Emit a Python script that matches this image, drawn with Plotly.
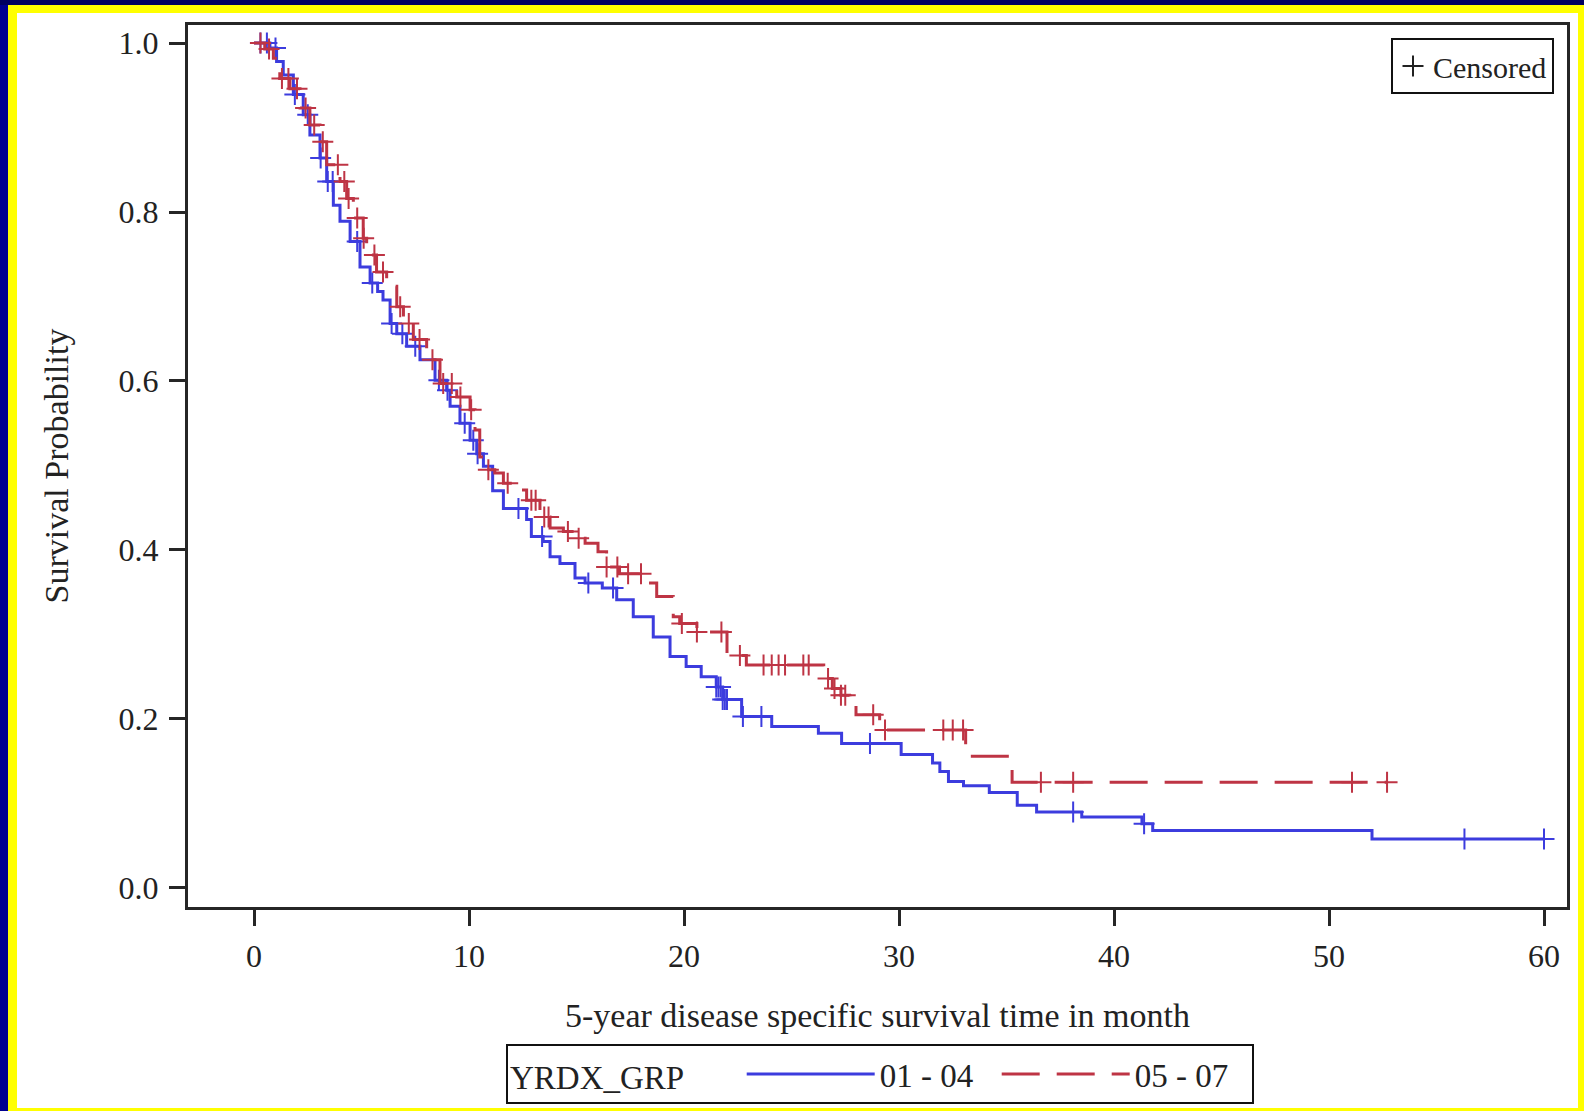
import numpy as np
import plotly.graph_objects as go

# ---------------- data ----------------
group_names = ["01 - 04", "05 - 07"]

blue_t = [0, 0.74, 1.05, 1.36, 1.83, 2.29, 2.6, 3.07, 3.38, 3.69, 4.0, 4.47, 4.93, 5.4, 5.75,
          6.0, 6.33, 6.64, 7.1, 7.72, 8.42, 8.96, 9.12, 9.58, 10.05, 10.36, 10.67, 11.1, 11.6,
          12.68, 12.9, 13.45, 13.77, 14.23, 14.93, 15.4, 16.2, 16.87, 17.64, 18.57, 19.35, 20.1,
          20.8, 21.5, 21.8, 22.68, 24.08, 26.25, 27.33, 30.1, 31.56, 31.9, 32.3, 33.0, 34.2,
          35.5, 36.4, 38.5, 41.3, 41.8, 52.0]
blue_s = [1.0, 0.994, 0.978, 0.962, 0.939, 0.915, 0.891, 0.864, 0.836, 0.808, 0.789, 0.765, 0.735,
          0.716, 0.706, 0.696, 0.668, 0.656, 0.641, 0.625, 0.601, 0.589, 0.570, 0.550, 0.530,
          0.514, 0.499, 0.470, 0.449, 0.436, 0.416, 0.410, 0.392, 0.384, 0.367, 0.361, 0.355,
          0.341, 0.321, 0.297, 0.274, 0.262, 0.250, 0.238, 0.223, 0.203, 0.191, 0.183, 0.171,
          0.158, 0.148, 0.138, 0.126, 0.121, 0.113, 0.098, 0.090, 0.084, 0.076, 0.068, 0.058]
blue_end = 60.0
blue_cens = [0.3, 0.6, 1.0, 1.9, 2.5, 3.1, 3.43, 3.66, 4.8, 5.5, 6.4, 6.9, 7.5, 8.6, 9.0, 9.8,
             10.2, 10.4, 12.3, 13.4, 15.55, 16.7, 21.5, 21.6, 21.7, 21.8, 21.9, 22.0, 22.74,
             23.6, 28.65, 38.1, 41.4, 56.3, 60.0]

red_t = [0, 0.5, 0.9, 1.2, 1.67, 2.14, 2.6, 3.07, 3.38, 4.0, 4.31, 4.62, 5.08, 5.24, 5.7, 6.17,
         6.64, 6.95, 7.41, 8.03, 8.65, 9.43, 10.05, 10.28, 10.5, 10.74, 11.2, 11.6, 12.29, 12.68,
         13.3, 13.77, 14.39, 14.93, 15.4, 16.0, 16.4, 17.0, 18.26, 18.73, 19.5, 19.8, 20.6, 22.0,
         22.9, 26.5, 26.9, 27.3, 27.7, 28.0, 29.1, 33.1, 35.26]
red_s = [1.0, 0.993, 0.982, 0.958, 0.946, 0.923, 0.903, 0.883, 0.856, 0.836, 0.816, 0.793, 0.769,
         0.749, 0.729, 0.712, 0.688, 0.668, 0.649, 0.625, 0.597, 0.581, 0.566, 0.542, 0.510,
         0.495, 0.491, 0.479, 0.471, 0.459, 0.439, 0.426, 0.422, 0.414, 0.408, 0.398, 0.380,
         0.372, 0.361, 0.345, 0.321, 0.313, 0.303, 0.275, 0.264, 0.248, 0.236, 0.228, 0.222,
         0.205, 0.187, 0.156, 0.125]
red_end = 52.7
red_cens = [0.3, 0.7, 1.3, 1.6, 2.0, 2.4, 2.8, 3.2, 3.9, 4.2, 4.4, 4.8, 5.1, 5.6, 6.0, 6.8, 7.2,
            7.7, 8.3, 8.8, 9.2, 9.6, 10.1, 10.9, 11.8, 12.9, 13.1, 13.5, 13.7, 14.6, 15.1, 16.4,
            16.9, 17.4, 18.0, 19.9, 20.6, 21.74, 22.6, 23.7, 24.08, 24.4, 24.7, 25.55, 25.8,
            26.7, 27.0, 27.3, 27.5, 28.8, 29.35, 32.06, 32.5, 32.98, 36.6, 38.1, 51.07, 52.7]

x_ticks = [0, 10, 20, 30, 40, 50, 60]
y_ticks = [0.0, 0.2, 0.4, 0.6, 0.8, 1.0]

BLUE = "#3C3CDE"
RED = "#BE3444"
FONT = "Liberation Serif"
TXT = "#222222"

# ---------------- helpers ----------------
def surv_at(times, surv, t):
    idx = np.searchsorted(np.array(times), np.array(t), side="right") - 1
    return list(np.array(surv)[idx])

fig = go.Figure()

for name, t, s, end, cens, color, dash in [
    (group_names[0], blue_t, blue_s, blue_end, blue_cens, BLUE, "solid"),
    (group_names[1], red_t, red_s, red_end, red_cens, RED, "38px,17px"),
]:
    fig.add_trace(go.Scatter(
        x=list(t) + [end], y=list(s) + [s[-1]], mode="lines", line_shape="hv",
        line=dict(color=color, width=3, dash=dash), name=name, legend="legend",
    ))
    fig.add_trace(go.Scatter(
        x=cens, y=surv_at(t, s, cens), mode="markers", showlegend=False,
        marker=dict(symbol="cross-thin", size=15, line=dict(width=2, color=color)),
    ))

fig.add_trace(go.Scatter(
    x=[None], y=[None], mode="markers", name="Censored", legend="legend2",
    marker=dict(symbol="cross-thin", size=15, line=dict(width=2, color=TXT)),
))

# ---------------- layout ----------------
W, H = 1584, 1111
L, R, T, B = 188, 17, 25, 204
PW, PH = W - L - R, H - T - B

def px(x):
    return (x - L) / PW

def py(y):
    return (H - B - y) / PH

shapes = [
    dict(type="rect", xref="paper", yref="paper", x0=px(0), x1=px(W), y0=py(H), y1=py(0),
         fillcolor="#000060", line_width=0, layer="below"),
    dict(type="rect", xref="paper", yref="paper", x0=px(0), x1=px(8), y0=py(H), y1=py(5),
         fillcolor="#000090", line_width=0, layer="below"),
    dict(type="rect", xref="paper", yref="paper", x0=px(8), x1=px(W), y0=py(H), y1=py(5),
         fillcolor="#FFFF00", line_width=0, layer="below"),
    dict(type="rect", xref="paper", yref="paper", x0=px(17), x1=px(1578), y0=py(1108), y1=py(13),
         fillcolor="#FFFFFF", line_width=0, layer="below"),
]

axis_common = dict(
    showgrid=False, zeroline=False, showline=True, mirror=True, linecolor="#262626", linewidth=3,
    ticks="outside", ticklen=16, tickwidth=2.5, tickcolor="#262626",
    tickfont=dict(family=FONT, size=32, color=TXT), automargin=False,
)

fig.update_layout(
    width=W, height=H, autosize=False,
    margin=dict(l=L, r=R, t=T, b=B, pad=0, autoexpand=False),
    paper_bgcolor="#FFFFFF", plot_bgcolor="#FFFFFF",
    shapes=shapes,
    xaxis=dict(**axis_common, range=[-3.07, 61.07], tickvals=x_ticks, ticklabelstandoff=3,
               title=dict(text="5-year disease specific survival time in month",
                          font=dict(family=FONT, size=34, color=TXT), standoff=30)),
    yaxis=dict(**axis_common, range=[-0.0225, 1.0213], tickvals=y_ticks, tickformat=".1f",
               ticklabelstandoff=4,
               title=dict(text="Survival Probability",
                          font=dict(family=FONT, size=34, color=TXT), standoff=40)),
    legend=dict(orientation="h", x=px(506), xanchor="left", y=py(1074), yanchor="middle",
                title=dict(text="YRDX_GRP" + "&nbsp;" * 6,
                           font=dict(family=FONT, size=33, color=TXT)),
                font=dict(family=FONT, size=33, color=TXT),
                itemwidth=128, entrywidth=112, entrywidthmode="pixels",
                bordercolor="#111111", borderwidth=2, bgcolor="#FFFFFF"),
    legend2=dict(x=px(1554), xanchor="right", y=py(38), yanchor="top",
                 font=dict(family=FONT, size=30, color=TXT),
                 bordercolor="#111111", borderwidth=2, bgcolor="#FFFFFF"),
    showlegend=True,
)

fig.write_html("out.html", config={"displayModeBar": False},
               post_script="document.body.style.margin='0px';")
